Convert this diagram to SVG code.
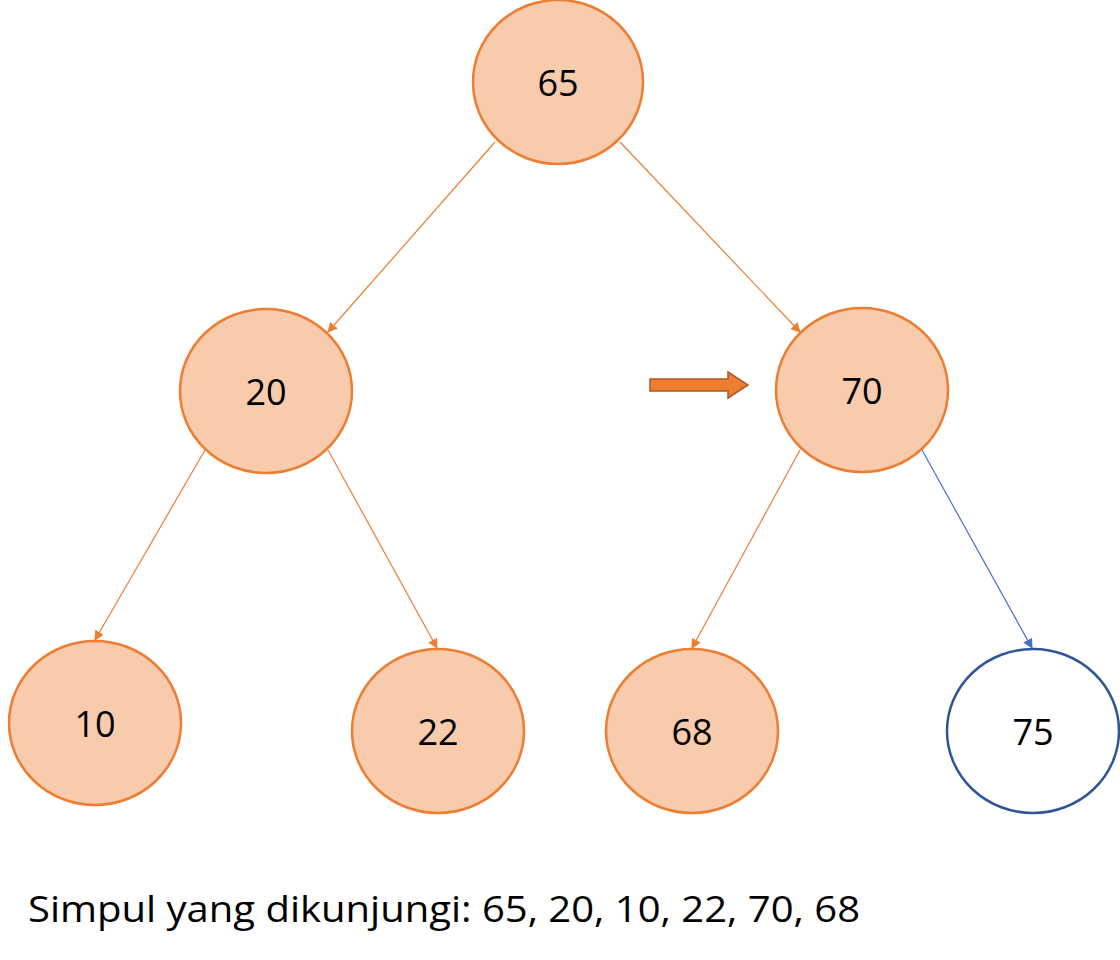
<svg xmlns="http://www.w3.org/2000/svg" width="1120" height="960" viewBox="0 0 1120 960">
<style>
.n{fill:#f8cbad;stroke:#ed7d31;stroke-width:2.5}
.w{fill:#fff;stroke:#2f5597;stroke-width:2.5}
.t{font-family:"Open Sans","Liberation Sans",sans-serif;font-size:36px;fill:#000;text-anchor:middle;dominant-baseline:central}
.e{stroke:#ed7d31;stroke-width:1.2;fill:none;marker-end:url(#ao)}
.b{stroke:#4472c4;stroke-width:1.2;fill:none;marker-end:url(#ab)}
</style>
<defs>
<marker id="ao" viewBox="0 0 10 10" refX="9" refY="5" markerWidth="10" markerHeight="10" markerUnits="userSpaceOnUse" orient="auto"><path d="M0,0L10,5L0,10z" fill="#ed7d31"/></marker>
<marker id="ab" viewBox="0 0 10 10" refX="9" refY="5" markerWidth="10" markerHeight="10" markerUnits="userSpaceOnUse" orient="auto"><path d="M0,0L10,5L0,10z" fill="#4472c4"/></marker>
</defs>
<rect width="1120" height="960" fill="#fff"/>
<g id="connectors">
<line class="e" x1="495" y1="142" x2="328" y2="332"/>
<line class="e" x1="620" y1="142" x2="800" y2="332"/>
<line class="e" x1="205" y1="450" x2="95" y2="640"/>
<line class="e" x1="328" y1="450" x2="437" y2="648"/>
<line class="e" x1="800" y1="450" x2="692" y2="648"/>
<line class="b" x1="922" y1="450" x2="1032" y2="648"/>
</g>
<g id="pointer"><path d="M650,379H728V372L748,385L728,398V391H650z" fill="#ed7d31" stroke="#ae5a21" stroke-width="1.5"/></g>
<g id="n65"><ellipse class="n" cx="558" cy="82" rx="85" ry="82"/><text class="t" x="558" y="82">65</text></g>
<g id="n20"><ellipse class="n" cx="266" cy="391" rx="86" ry="82"/><text class="t" x="266" y="391">20</text></g>
<g id="n70"><ellipse class="n" cx="862" cy="390" rx="86" ry="82"/><text class="t" x="862" y="390">70</text></g>
<g id="n10"><ellipse class="n" cx="95" cy="723" rx="86" ry="82"/><text class="t" x="95" y="723">10</text></g>
<g id="n22"><ellipse class="n" cx="438" cy="731" rx="86" ry="82"/><text class="t" x="438" y="731">22</text></g>
<g id="n68"><ellipse class="n" cx="692" cy="731" rx="86" ry="82"/><text class="t" x="692" y="731">68</text></g>
<g id="n75"><ellipse class="w" cx="1033" cy="731" rx="86" ry="82"/><text class="t" x="1033" y="731">75</text></g>
<text x="28" y="922" font-family="Open Sans, Liberation Sans, sans-serif" font-size="36" textLength="832" lengthAdjust="spacingAndGlyphs">Simpul yang dikunjungi: 65, 20, 10, 22, 70, 68</text>
</svg>
